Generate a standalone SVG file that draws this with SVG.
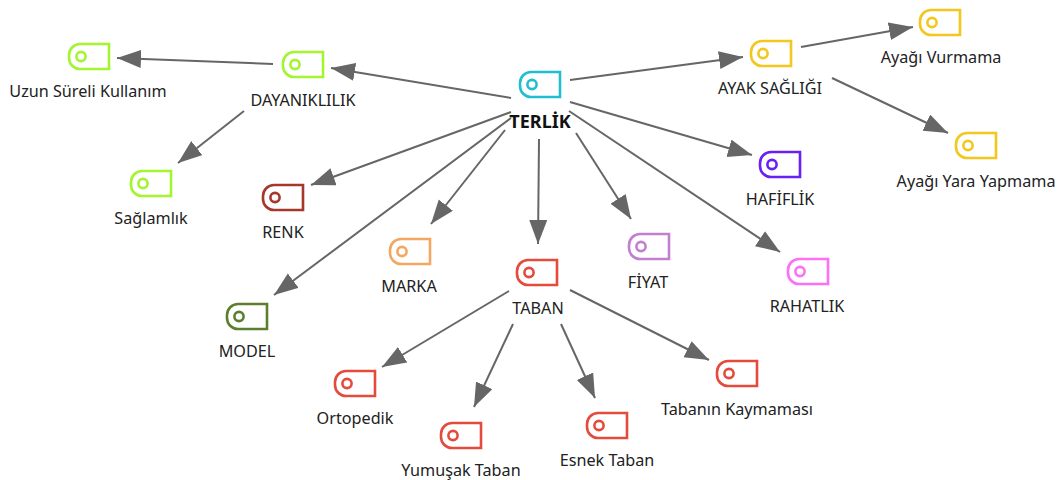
<svg xmlns="http://www.w3.org/2000/svg" width="1064" height="480" viewBox="0 0 1064 480">
<defs>
<marker id="a" markerUnits="userSpaceOnUse" markerWidth="28" markerHeight="20" refX="24" refY="9" orient="auto"><path d="M0 0L24 9L0 18Z" fill="#666"/></marker>
<path id="i" d="M12 1H41V26H12A11 11 0 0 1 1 15V12A11 11 0 0 1 12 1Z" fill="#fff" stroke-width="2.6"/>
<circle id="c" cx="13" cy="13.5" r="4.6" fill="none" stroke-width="2.6"/>
</defs>
<style>
text{font-family:"Noto Sans","Open Sans",sans-serif;font-size:16.2px;fill:#222;text-anchor:middle}
.b{font-weight:700;font-size:18px;fill:#111}
.l{stroke:#666;stroke-width:2;fill:none;marker-end:url(#a)}
</style>
<rect width="1064" height="480" fill="#fff"/>
<g id="connectors">
<path class="l" d="M511 98L331 68"/>
<path class="l" d="M273 64L117 58"/>
<path class="l" d="M244 111L178 163"/>
<path class="l" d="M511 112L311 185"/>
<path class="l" d="M511 118L274 295"/>
<path class="l" d="M505 130L431 224"/>
<path class="l" d="M539 139L538 244"/>
<path class="l" d="M576 133L631 219"/>
<path class="l" d="M569 111L780 252"/>
<path class="l" d="M570 102L752 155"/>
<path class="l" d="M570 80L743 57"/>
<path class="l" d="M801 47L913 27"/>
<path class="l" d="M832 78L948 133"/>
<path class="l" d="M509 291L382 367"/>
<path class="l" d="M513 324L474 407"/>
<path class="l" d="M561 324L595 398"/>
<path class="l" d="M570 290L709 360"/>
</g>
<g id="n-terlik" stroke="#1fbfcf" transform="translate(519 71)"><use href="#i"/><use href="#c"/><text class="b" x="21" y="57" stroke="none">TERLİK</text></g>
<g id="n-dayaniklilik" stroke="#a3f530" transform="translate(282 51)"><use href="#i"/><use href="#c"/><text x="21" y="55" stroke="none">DAYANIKLILIK</text></g>
<g id="n-uzun" stroke="#a3f530" transform="translate(68 43)"><use href="#i"/><use href="#c"/><text x="20" y="54" stroke="none">Uzun Süreli Kullanım</text></g>
<g id="n-saglamlik" stroke="#a3f530" transform="translate(130 170)"><use href="#i"/><use href="#c"/><text x="21" y="54" stroke="none">Sağlamlık</text></g>
<g id="n-renk" stroke="#a5382b" transform="translate(262 184)"><use href="#i"/><use href="#c"/><text x="21" y="54" stroke="none">RENK</text></g>
<g id="n-model" stroke="#5b7f2e" transform="translate(226 303)"><use href="#i"/><use href="#c"/><text x="21" y="54" stroke="none">MODEL</text></g>
<g id="n-marka" stroke="#f4a761" transform="translate(389 238)"><use href="#i"/><use href="#c"/><text x="20" y="54" stroke="none">MARKA</text></g>
<g id="n-taban" stroke="#e54b3c" transform="translate(516 259)"><use href="#i"/><use href="#c"/><text x="22" y="55" stroke="none">TABAN</text></g>
<g id="n-fiyat" stroke="#c27fcf" transform="translate(628 233)"><use href="#i"/><use href="#c"/><text x="20" y="55" stroke="none">FİYAT</text></g>
<g id="n-rahatlik" stroke="#ff6ff5" transform="translate(787 258)"><use href="#i"/><use href="#c"/><text x="20" y="54" stroke="none">RAHATLIK</text></g>
<g id="n-hafiflik" stroke="#6a1ff5" transform="translate(759 151)"><use href="#i"/><use href="#c"/><text x="21" y="54" stroke="none">HAFİFLİK</text></g>
<g id="n-ayak" stroke="#f2c71e" transform="translate(750 40)"><use href="#i"/><use href="#c"/><text x="20" y="54" stroke="none">AYAK SAĞLIĞI</text></g>
<g id="n-vurmama" stroke="#f2c71e" transform="translate(919 9)"><use href="#i"/><use href="#c"/><text x="22" y="54" stroke="none">Ayağı Vurmama</text></g>
<g id="n-yara" stroke="#f2c71e" transform="translate(955 132)"><use href="#i"/><use href="#c"/><text x="21" y="55" stroke="none">Ayağı Yara Yapmama</text></g>
<g id="n-ortopedik" stroke="#e54b3c" transform="translate(334 370)"><use href="#i"/><use href="#c"/><text x="21" y="54" stroke="none">Ortopedik</text></g>
<g id="n-yumusak" stroke="#e54b3c" transform="translate(440 422)"><use href="#i"/><use href="#c"/><text x="21" y="54" stroke="none">Yumuşak Taban</text></g>
<g id="n-esnek" stroke="#e54b3c" transform="translate(586 412)"><use href="#i"/><use href="#c"/><text x="21" y="54" stroke="none">Esnek Taban</text></g>
<g id="n-kaymamasi" stroke="#e54b3c" transform="translate(716 360)"><use href="#i"/><use href="#c"/><text x="21" y="55" stroke="none">Tabanın Kaymaması</text></g>
</svg>
